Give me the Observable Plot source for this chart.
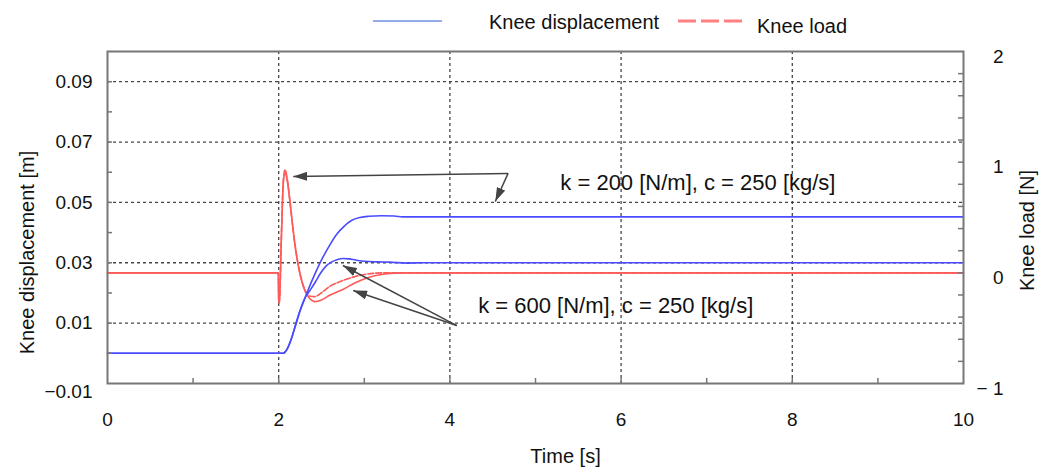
<!DOCTYPE html>
<html>
<head>
<meta charset="utf-8">
<script src="https://cdn.jsdelivr.net/npm/d3@7"></script>
<script src="https://cdn.jsdelivr.net/npm/@observablehq/plot@0.6"></script>
<style>
  html, body { margin: 0; padding: 0; background: #fff; }
  #wrap { position: relative; width: 1053px; height: 470px; font-family: 'Liberation Sans', Arial, Helvetica, sans-serif; color: #111; }
  #legend { position: relative; width: 1053px; height: 40px; }
  #legend .sw, #legend .lab { position: absolute; }
  #legend .lab { font-size: 20px; line-height: 24px; white-space: nowrap; }
</style>
</head>
<body>
<div id="wrap">
  <div id="legend">
    <svg class="sw" style="left:373px; top:16px" width="70" height="10"><line x1="0" y1="5" x2="69" y2="5" stroke="#7090e0" stroke-width="1.5"/></svg>
    <div class="lab" style="left:489px; top:10px">Knee displacement</div>
    <svg class="sw" style="left:678px; top:16px" width="66" height="10"><line x1="0" y1="5" x2="66" y2="5" stroke="#ff8080" stroke-width="3" stroke-dasharray="18,5"/></svg>
    <div class="lab" style="left:757px; top:14px">Knee load</div>
  </div>
  <div id="chart"></div>
</div>
<script>
// ---- data ----
// Knee displacement [m], k = 200 N/m
const timeDispK200 = [0, 2.05, 2.10, 2.15, 2.20, 2.25, 2.31, 2.38, 2.45, 2.52, 2.60, 2.68, 2.76, 2.85, 2.95, 3.05, 3.20, 3.35, 3.45, 10];
const dispK200     = [0.0, 0.0, 0.0015, 0.005, 0.0095, 0.014, 0.0185, 0.0235, 0.028, 0.032, 0.036, 0.0395, 0.042, 0.0440, 0.0450, 0.0454, 0.0456, 0.0455, 0.0452, 0.0452];
// Knee displacement [m], k = 600 N/m
const timeDispK600 = [0, 2.05, 2.10, 2.15, 2.20, 2.25, 2.31, 2.37, 2.43, 2.49, 2.55, 2.62, 2.69, 2.75, 2.82, 2.90, 3.00, 3.15, 3.30, 3.50, 3.70, 10];
const dispK600     = [0.0, 0.0, 0.0015, 0.005, 0.0098, 0.0143, 0.0185, 0.021, 0.0237, 0.0266, 0.0288, 0.0303, 0.0311, 0.0314, 0.0313, 0.0309, 0.0305, 0.0303, 0.0302, 0.0299, 0.0300, 0.0300];
// Knee load [N], k = 200 N/m
const timeLoadK200 = [0, 1.995, 2.0, 2.008, 2.03, 2.055, 2.075, 2.10, 2.13, 2.16, 2.19, 2.22, 2.26, 2.31, 2.36, 2.42, 2.50, 2.60, 2.70, 2.80, 2.90, 3.00, 3.10, 3.20, 10];
const loadK200     = [0, 0, -0.27, -0.27, 0.30, 0.85, 0.93, 0.85, 0.66, 0.45, 0.26, 0.11, -0.04, -0.16, -0.21, -0.215, -0.18, -0.12, -0.085, -0.055, -0.032, -0.015, -0.005, 0, 0];
// Knee load [N], k = 600 N/m
const timeLoadK600 = [0, 1.995, 2.0, 2.008, 2.03, 2.055, 2.075, 2.10, 2.13, 2.16, 2.19, 2.22, 2.26, 2.31, 2.36, 2.42, 2.50, 2.60, 2.75, 2.90, 3.05, 3.20, 3.35, 3.45, 10];
const loadK600     = [0, 0, -0.27, -0.27, 0.28, 0.82, 0.90, 0.83, 0.65, 0.44, 0.25, 0.10, -0.05, -0.17, -0.23, -0.26, -0.245, -0.20, -0.15, -0.087, -0.042, -0.015, -0.003, 0, 0];

// axis ticks
const xTickLabels = [0, 2, 4, 6, 8, 10];
const xMinorTicks = [1, 2, 3, 4, 5, 6, 7, 8, 9];
const xGrid = [2, 4, 6, 8];
const dispTickLabels = [0.01, 0.03, 0.05, 0.07, 0.09];
const dispBottomLabel = [-0.01];
const dispMinorTicks = [0, 0.01, 0.02, 0.03, 0.04, 0.05, 0.06, 0.07, 0.08, 0.09];
const loadTickLabels = [-1, 0, 1, 2];
const loadMinorTicks = d3.range(-0.8, 1.81, 0.2);

// annotations
const annoText = ["k = 200 [N/m], c = 250 [kg/s]", "k = 600 [N/m], c = 250 [kg/s]"];
const annoTime = [5.29, 4.33];
const annoDisp = [0.0563, 0.0158];
const arrowFromTime = [4.68, 4.68, 4.08, 4.08];
const arrowFromDisp = [0.0596, 0.0596, 0.0092, 0.0092];
const arrowToTime   = [2.17, 4.53, 2.75, 2.87];
const arrowToDisp   = [0.0586, 0.0503, 0.0291, 0.0208];

// ---- mapping of the right (load) axis onto the left (displacement) axis ----
const dispDomain = [-0.01, 0.1];
const loadDomain = [-1, 2];
const toDisp = L => dispDomain[0] + (L - loadDomain[0]) * (dispDomain[1] - dispDomain[0]) / (loadDomain[1] - loadDomain[0]);
const toLoad = d => loadDomain[0] + (d - dispDomain[0]) * (loadDomain[1] - loadDomain[0]) / (dispDomain[1] - dispDomain[0]);

const rows = (ts, vs, f = v => v) => ts.map((t, i) => ({t, v: f(vs[i])}));
const sDispK200 = rows(timeDispK200, dispK200);
const sDispK600 = rows(timeDispK600, dispK600);
const sLoadK200 = rows(timeLoadK200, loadK200, toDisp);
const sLoadK600 = rows(timeLoadK600, loadK600, toDisp);
const annos = annoText.map((text, i) => ({text, t: annoTime[i], d: annoDisp[i]}));
const arrows = arrowFromTime.map((t, i) => ({x1: t, y1: arrowFromDisp[i], x2: arrowToTime[i], y2: arrowToDisp[i]}));

const minusFmt = s => s.replace(/^-/, "\u2212 ");
const W = 1053, H = 430;
const mL = 107, mR = 90, mT = 11, mB = 87;
const frameW = W - mL - mR, frameH = H - mT - mB;
const FONT = "'Liberation Sans', Arial, Helvetica, sans-serif";

function filledArrow(color, context) {
  const doc = (context && context.document) || document;
  const ns = "http://www.w3.org/2000/svg";
  const m = doc.createElementNS(ns, "marker");
  m.setAttribute("viewBox", "-7 -4.5 14 9");
  m.setAttribute("markerWidth", 14);
  m.setAttribute("markerHeight", 9);
  m.setAttribute("markerUnits", "userSpaceOnUse");
  m.setAttribute("orient", "auto");
  m.setAttribute("refX", 7);
  m.setAttribute("refY", 0);
  const p = doc.createElementNS(ns, "path");
  p.setAttribute("d", "M-7,-4.5L7,0L-7,4.5Z");
  p.setAttribute("fill", color);
  p.setAttribute("stroke", "none");
  m.appendChild(p);
  return m;
}

function build(marker) {
  return Plot.plot({
    width: W, height: H,
    marginLeft: mL, marginRight: mR, marginTop: mT, marginBottom: mB,
    style: {fontFamily: FONT, fontSize: "19px", color: "#111", background: "#fff", overflow: "visible"},
    x: {domain: [0, 10], axis: null},
    y: {domain: dispDomain, axis: null},
    marks: [
      Plot.gridX(xGrid, {stroke: "#333", strokeOpacity: 0.9, strokeWidth: 1.3, strokeDasharray: "3,3"}),
      Plot.gridY(dispTickLabels, {stroke: "#333", strokeOpacity: 0.9, strokeWidth: 1.3, strokeDasharray: "3,3"}),
      Plot.line(sLoadK200, {x: "t", y: "v", stroke: "#ff5a5a", strokeWidth: 1.6, strokeDasharray: "6,2", curve: "monotone-x"}),
      Plot.line(sLoadK600, {x: "t", y: "v", stroke: "#ff5a5a", strokeWidth: 1.6, curve: "monotone-x"}),
      Plot.line(sDispK200, {x: "t", y: "v", stroke: "#4b4bff", strokeWidth: 1.6, curve: "monotone-x"}),
      Plot.line(sDispK600, {x: "t", y: "v", stroke: "#4b4bff", strokeWidth: 1.6, curve: "monotone-x"}),
      Plot.frame({stroke: "#777", strokeWidth: 2}),
      Plot.tickX(xMinorTicks, {x: d => d, insetTop: frameH - 5, stroke: "#777", strokeWidth: 1.5}),
      Plot.tickY(dispMinorTicks, {y: d => d, insetRight: frameW - 5, stroke: "#777", strokeWidth: 1.5}),
      Plot.tickY(loadMinorTicks, {y: d => toDisp(d), insetLeft: frameW - 5, stroke: "#777", strokeWidth: 1.5}),
      Plot.axisX({ticks: xTickLabels, tickSize: 0, tickPadding: 29, tickFormat: d => String(d), fontSize: 19}),
      Plot.axisY({anchor: "left", ticks: dispTickLabels, tickSize: 0, tickPadding: 15, tickFormat: d => minusFmt(d3.format(".2f")(d)), fontSize: 19}),
      Plot.axisY({anchor: "left", ticks: dispBottomLabel, tickSize: 0, tickPadding: 15, dy: 8, tickFormat: d => minusFmt(d3.format(".2f")(d)), fontSize: 19}),
      Plot.axisY({anchor: "right", ticks: loadTickLabels.map(toDisp), tickSize: 0, tickPadding: 40, textAnchor: "end", dy: 5, tickFormat: d => minusFmt(String(Math.round(toLoad(d)))), fontSize: 19}),
      Plot.link(arrows, {x1: "x1", y1: "y1", x2: "x2", y2: "y2", stroke: "#444", strokeWidth: 1.5, markerEnd: marker}),
      Plot.text(annos, {x: "t", y: "d", text: "text", textAnchor: "start", fontSize: 22, fill: "#111"}),
      Plot.text(["Knee displacement [m]"], {frameAnchor: "left", textAnchor: "middle", text: d => d, rotate: -90, dx: -80, dy: 35, fontSize: 20, fill: "#111"}),
      Plot.text(["Knee load [N]"], {frameAnchor: "right", textAnchor: "middle", text: d => d, rotate: -90, dx: 64, dy: 13, fontSize: 20, fill: "#111"}),
      Plot.text(["Time [s]"], {frameAnchor: "bottom", textAnchor: "middle", text: d => d, dx: 30, dy: 79, fontSize: 20, fill: "#111"})
    ]
  });
}

let chart;
try { chart = build(filledArrow); } catch (e) { chart = build("arrow"); }
document.getElementById("chart").appendChild(chart);
</script>
</body>
</html>
